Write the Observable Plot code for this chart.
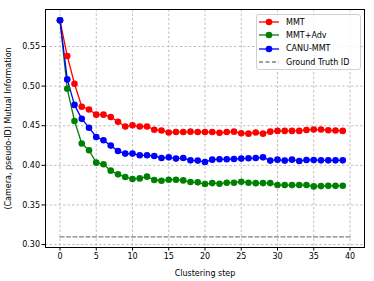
<!DOCTYPE html>
<html>
<head>
<meta charset="utf-8">
<script src="https://cdn.jsdelivr.net/npm/d3@7"></script>
<script src="https://cdn.jsdelivr.net/npm/@observablehq/plot@0.6"></script>
<style>
  html, body { margin: 0; padding: 0; background: #fff; }
  #wrap { position: relative; width: 374px; height: 281px; font-family: "DejaVu Sans", sans-serif; }
  #legend { position: absolute; left: 256px; top: 14px; width: 103px; height: 54px; border: 1px solid #d0d0d0; border-radius: 3px; background: rgba(255,255,255,0.85); font-size: 8px; color: #000; }
  .row { position: absolute; left: 2px; height: 10px; display: flex; align-items: center; }
  .row svg { margin-right: 7px; }
</style>
</head>
<body>
<div id="wrap"><div id="legend"></div></div>
<script>
const steps = [0,1,2,3,4,5,6,7,8,9,10,11,12,13,14,15,16,17,18,19,20,21,22,23,24,25,26,27,28,29,30,31,32,33,34,35,36,37,38,39];
const seriesNames = ["MMT", "MMT+Adv", "CANU-MMT"];
const seriesColors = ["#ff0000", "#008000", "#0000ff"];
const mmt = [0.583,0.538,0.503,0.474,0.4705,0.464,0.464,0.461,0.455,0.449,0.4505,0.449,0.449,0.445,0.444,0.4415,0.442,0.442,0.4425,0.442,0.442,0.442,0.441,0.442,0.4425,0.4405,0.440,0.4415,0.440,0.4425,0.4435,0.4435,0.4435,0.4435,0.4447,0.4452,0.4452,0.4443,0.444,0.4435];
const mmtAdv = [0.583,0.4966,0.456,0.4275,0.419,0.4034,0.4013,0.3933,0.3886,0.3852,0.3827,0.3835,0.3857,0.3815,0.3806,0.3819,0.3819,0.381,0.3789,0.3785,0.3764,0.3776,0.3768,0.3781,0.3781,0.3793,0.3781,0.3775,0.3776,0.3776,0.3751,0.3751,0.3751,0.3751,0.3751,0.3734,0.3738,0.3741,0.3741,0.3743];
const canuMmt = [0.583,0.5085,0.4763,0.4587,0.4475,0.4358,0.4316,0.4249,0.4181,0.4148,0.4148,0.4127,0.4127,0.4118,0.4092,0.4101,0.4085,0.4092,0.4063,0.406,0.4042,0.4072,0.4076,0.4076,0.408,0.4085,0.4089,0.4092,0.4101,0.406,0.4072,0.406,0.4072,0.4055,0.4068,0.4068,0.4063,0.4063,0.4063,0.4063];
const gtSteps = [0, 40];
const gtValue = 0.3097;
const gtName = "Ground Truth ID";
const xTicks = [0,5,10,15,20,25,30,35,40];
const yTicks = [0.30,0.35,0.40,0.45,0.50,0.55];

const allSeries = [mmt, mmtAdv, canuMmt];
const rows = [];
allSeries.forEach((vals, si) => vals.forEach((v, i) => rows.push({step: steps[i], value: v, series: seriesNames[si]})));
const gtRows = gtSteps.map(s => ({step: s, value: gtValue}));

const plot = Plot.plot({
  width: 374,
  height: 281,
  marginLeft: 45,
  marginRight: 10,
  marginTop: 9,
  marginBottom: 34,
  style: {fontFamily: "DejaVu Sans, sans-serif", fontSize: "8px", color: "#000", background: "transparent"},
  x: {domain: [-2, 42]},
  y: {domain: [0.2963, 0.5967]},
  color: {domain: seriesNames, range: seriesColors},
  marks: [
    Plot.gridX(xTicks, {stroke: "#b0b0b0", strokeOpacity: 1, strokeDasharray: "2.5,2", strokeWidth: 0.8}),
    Plot.gridY(yTicks, {stroke: "#b0b0b0", strokeOpacity: 1, strokeDasharray: "2.5,2", strokeWidth: 0.8}),
    Plot.line(rows, {x: "step", y: "value", z: "series", stroke: "series", strokeWidth: 1.3}),
    Plot.dot(rows, {x: "step", y: "value", fill: "series", r: 3.3, stroke: null}),
    Plot.line(gtRows, {x: "step", y: "value", stroke: "#808080", strokeWidth: 1.3, strokeDasharray: "4,2.5"}),
    Plot.frame({stroke: "#000", strokeWidth: 1}),
    Plot.axisX(xTicks, {tickSize: 3.5, tickPadding: 2, tickFormat: d => d3.format("d")(d), label: "Clustering step", labelAnchor: "center", labelArrow: "none", labelOffset: 28}),
    Plot.axisY(yTicks, {tickSize: 3.5, tickPadding: 2, tickFormat: d => d3.format(".2f")(d), label: "(Camera, pseudo-ID) Mutual Information", labelAnchor: "center", labelArrow: "none", labelOffset: 40})
  ]
});
document.getElementById("wrap").prepend(plot);

// legend
const legend = document.getElementById("legend");
const entries = seriesNames.map((n, i) => ({name: n, color: seriesColors[i], dot: true, dash: null}));
entries.push({name: gtName, color: "#808080", dot: false, dash: "4,2.5"});
entries.forEach((e, i) => {
  const row = document.createElement("div");
  row.className = "row";
  row.style.top = (2 + i * 13.4) + "px";
  const ns = "http://www.w3.org/2000/svg";
  const s = document.createElementNS(ns, "svg");
  s.setAttribute("width", 20); s.setAttribute("height", 10);
  const l = document.createElementNS(ns, "line");
  l.setAttribute("x1", 0); l.setAttribute("x2", 20); l.setAttribute("y1", 5); l.setAttribute("y2", 5);
  l.setAttribute("stroke", e.color); l.setAttribute("stroke-width", 1.3);
  if (e.dash) l.setAttribute("stroke-dasharray", e.dash);
  s.appendChild(l);
  if (e.dot) {
    const c = document.createElementNS(ns, "circle");
    c.setAttribute("cx", 10); c.setAttribute("cy", 5); c.setAttribute("r", 3.3); c.setAttribute("fill", e.color);
    s.appendChild(c);
  }
  row.appendChild(s);
  const t = document.createElement("span");
  t.textContent = e.name;
  row.appendChild(t);
  legend.appendChild(row);
});
</script>
</body>
</html>
